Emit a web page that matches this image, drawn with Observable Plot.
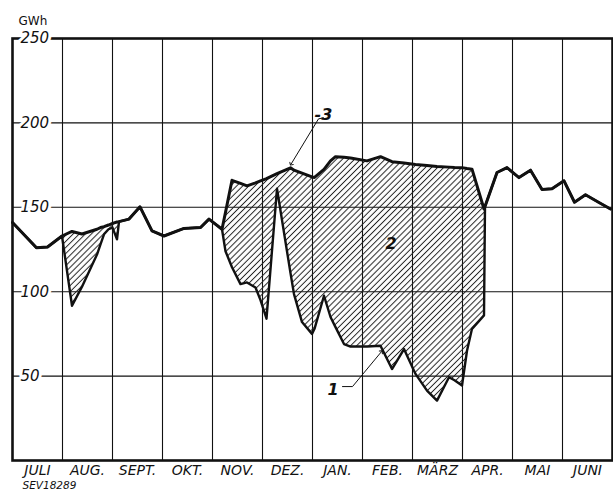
<!DOCTYPE html>
<html><head><meta charset="utf-8">
<script src="https://cdn.jsdelivr.net/npm/d3@7"></script>
<script src="https://cdn.jsdelivr.net/npm/@observablehq/plot@0.6"></script>
<style>body{margin:0;background:#fff} svg{display:block}</style>
</head><body><div id="chart"></div>
<script>
// Month labels (Juli .. Juni)
const months = ["JULI","AUG.","SEPT.","OKT.","NOV.","DEZ.","JAN.","FEB.","MÄRZ","APR.","MAI","JUNI"];
const yTicks = [50,100,150,200,250];
// Time position in months since 1 July
const t = [0.00,0.48,0.70,0.99,1.19,1.39,1.69,1.76,1.83,1.92,2.00,2.09,2.13,2.33,2.55,2.79,3.03,3.43,3.76,3.93,
  4.19,4.26,4.39,4.56,4.69,4.86,4.96,5.08,5.29,5.56,5.63,5.79,5.99,6.04,6.23,6.36,6.46,6.63,6.76,7.09,
  7.36,7.59,7.83,8.06,8.29,8.49,8.73,8.84,8.99,9.09,9.19,9.43,9.45,9.69,9.89,10.13,10.36,10.59,10.79,11.03,
  11.24,11.46,11.72,11.96];
// Curve 3 (upper, GWh)
const upper = [141,126,126.5,133,135.7,134.2,137,138,138.5,139.5,140.5,141.3,141.5,143,150.3,136,133,137.5,138,143,
  137,147,166,164.2,162.7,164.5,165.7,167,170,173.4,172,170.2,168,167.7,172.5,177.5,180,179.6,179.2,177.5,
  180,177,176.2,175.4,174.8,174.2,173.8,173.6,173.5,173,172.6,149,150.5,170.6,173.5,167.6,172,160.6,161,165.7,
  153,157.4,153,149];
// Curve 1 (lower, GWh)
const lower = [141,126,126.5,133,91.7,103,122,128,134,137,138,131,141.5,143,150.3,136,133,137.5,138,143,
  137,124,114.5,104.5,105.5,102.5,95,84,161,111,98.6,82,75,78,97.6,85,79,69,67.5,67.5,
  68,54.2,66,51.3,41.4,35.5,49.3,47.5,44.4,65,78,86,150.5,170.6,173.5,167.6,172,160.6,161,165.7,
  153,157.4,153,149];
// Annotations (month, GWh)
const notes = [{x:6.12,y:204.7,text:"-3"},{x:6.38,y:42,text:"1"},{x:7.54,y:128.4,text:"2"}];
const leader3 = [{x:6.22,y:203},{x:6.12,y:202.4},{x:5.57,y:175.5}];
const leader1 = [{x:6.6,y:43.8},{x:6.8,y:43.8},{x:7.38,y:64.5}];

const data = t.map((x,i)=>({x, up: upper[i], lo: lower[i]}));
const font = "DejaVu Sans, sans-serif";

const svg = Plot.plot({
  width: 613, height: 493,
  marginLeft: 12, marginRight: 1, marginTop: 38, marginBottom: 33,
  x: {domain:[0,12], axis:null},
  y: {domain:[0,250], axis:null},
  style: {fontFamily: font, background:"#fff", color:"#111"},
  marks: [
    Plot.ruleX(d3.range(1,12), {stroke:"#111", strokeWidth:1.1}),
    Plot.ruleY([50,100,150,200], {stroke:"#111", strokeWidth:1.1}),
    Plot.areaY(data, {x:"x", y1:"lo", y2:"up", fill:"url(#hatch)", curve:"linear"}),
    Plot.line(data, {x:"x", y:"lo", stroke:"#111", strokeWidth:2.4, strokeLinejoin:"round"}),
    Plot.line(data, {x:"x", y:"up", stroke:"#111", strokeWidth:3, strokeLinejoin:"round"}),
    Plot.frame({stroke:"#111", strokeWidth:2.6}),
    Plot.text(yTicks, {x:0, y:d=>d, text:d=>String(d), textAnchor:"start", dx:8, fontSize:15, fontStyle:"italic", fill:"#111", stroke:"#fff", strokeWidth:6}),
    Plot.text(months, {x:(d,i)=>i+0.5, y:0, text:d=>d, lineAnchor:"top", dy:5, fontSize:14, fontStyle:"italic", fill:"#111"}),
    Plot.text(["GWh"], {frameAnchor:"top-left", text:d=>d, textAnchor:"start", dx:6, dy:-22, fontSize:12, fill:"#111"}),
    Plot.text(["SEV18289"], {frameAnchor:"bottom-left", text:d=>d, textAnchor:"start", dx:10, dy:28.5, fontSize:10.5, fontStyle:"italic", fill:"#111"}),
    Plot.line(leader3, {x:"x", y:"y", stroke:"#111", strokeWidth:1, markerEnd:"arrow"}),
    Plot.line(leader1, {x:"x", y:"y", stroke:"#111", strokeWidth:1, markerEnd:"arrow"}),
    Plot.text(notes, {x:"x", y:"y", text:"text", fontSize:16, fontWeight:"bold", fontStyle:"italic", fill:"#111", textAnchor:"start", dx:-4})
  ]
});

const defs = d3.select(svg).insert("defs", ":first-child");
const p = defs.append("pattern").attr("id","hatch").attr("patternUnits","userSpaceOnUse")
  .attr("width",4.3).attr("height",4.3).attr("patternTransform","rotate(45)");
p.append("line").attr("x1",2.15).attr("y1",0).attr("x2",2.15).attr("y2",4.3).attr("stroke","#222").attr("stroke-width",1);

document.getElementById("chart").append(svg);
</script>
</body></html>
